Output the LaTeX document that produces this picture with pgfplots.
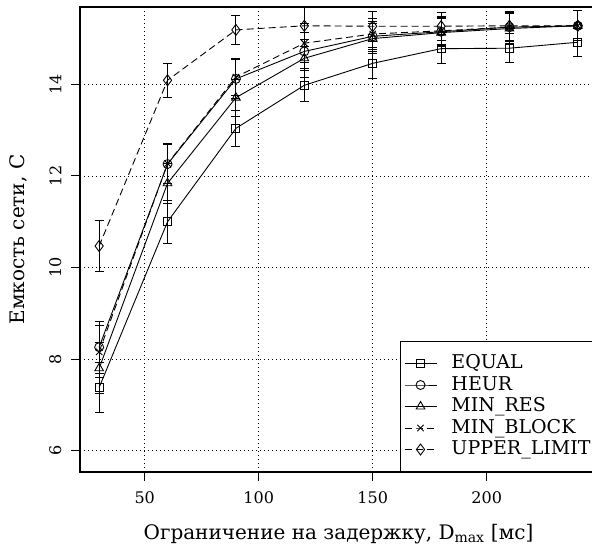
\documentclass[border=0pt]{standalone}
\usepackage{fontspec}
\setmainfont{DejaVu Serif}
\usepackage{pgfplots}
\usepackage{pgfplotstable}
\pgfplotsset{compat=1.18}

% Network capacity vs. delay bound: mean and confidence half-width
\pgfplotstableread{
x    y      e
30   7.38   0.55
60   11.00  0.47
90   13.04  0.40
120  13.98  0.36
150  14.46  0.34
180  14.78  0.32
210  14.79  0.32
240  14.92  0.30
}\equalT
\pgfplotstableread{
x    y      e
30   8.26   0.57
60   12.26  0.43
90   14.12  0.43
120  14.72  0.42
150  15.05  0.33
180  15.15  0.31
210  15.25  0.32
240  15.28  0.33
}\heurT
\pgfplotstableread{
x    y      e
30   7.80   0.56
60   11.84  0.44
90   13.71  0.40
120  14.57  0.42
150  15.00  0.33
180  15.13  0.31
210  15.22  0.32
240  15.28  0.33
}\minresT
\pgfplotstableread{
x    y      e
30   8.16   0.57
60   12.27  0.43
90   14.16  0.40
120  14.90  0.42
150  15.10  0.33
180  15.17  0.31
210  15.25  0.32
240  15.28  0.33
}\minblockT
\pgfplotstableread{
x    y      e
30   10.47  0.56
60   14.09  0.37
90   15.19  0.32
120  15.28  0.45
150  15.27  0.33
180  15.27  0.31
210  15.28  0.32
240  15.28  0.33
}\upperT

\begin{document}
\begin{tikzpicture}
\begin{axis}[
  scale only axis,
  width=517pt, height=465pt,
  xmin=21.6, xmax=248.4, ymin=5.535, ymax=15.69,
  xtick={50,100,150,200}, ytick={6,8,10,12,14},
  tick align=outside, xtick pos=bottom, ytick pos=left,
  major tick length=9pt,
  tick style={black, line width=1pt},
  axis line style={black, line width=1.2pt},
  grid=major,
  major grid style={black, line width=0.9pt, dash pattern=on 1.2pt off 2.8pt},
  /pgf/number format/assume math mode=true,
  ticklabel style={font=\fontsize{16}{19}\selectfont},
  xticklabel style={yshift=-7pt},
  yticklabel style={xshift=-6pt, rotate=90, anchor=south},
  every axis x label/.style={at={(axis description cs:0.5,0)}, yshift=-62pt, anchor=center},
  every axis y label/.style={at={(axis description cs:0,0.5)}, xshift=-62pt, rotate=90, anchor=center},
  label style={font=\fontsize{20}{24}\selectfont},
  xlabel={Ограничение на задержку, D\textsubscript{max} [мс]},
  ylabel={Емкость сети, C},
  legend style={at={(1,0)}, anchor=south east, draw=black, line width=1pt, fill=white,
    font=\fontsize{19}{21}\selectfont, inner xsep=3.5pt, inner ysep=11.25pt,
    row sep=0pt, column sep=12pt,
    nodes={text height=13.25pt, text depth=3.25pt, inner sep=2.5pt}},
  legend cell align=left,
  legend image code/.code={\draw[mark repeat=2, mark phase=2] plot coordinates {(0pt,0pt) (16pt,0pt) (32pt,0pt)};},
  every axis plot/.append style={black, line width=0.9pt},
  error bars/y dir=both, error bars/y explicit,
  error bars/error bar style={solid, line width=0.9pt},
  error bars/error mark options={rotate=90, mark size=4.5pt, solid, line width=0.9pt},
]
\addplot[mark=square, mark size=4pt, mark options={solid}] table[x=x, y=y, y error=e] {\equalT};
\addlegendentry{EQUAL}
\addplot[mark=o, mark size=4.5pt, mark options={solid}] table[x=x, y=y, y error=e] {\heurT};
\addlegendentry{HEUR}
\addplot[mark=triangle, mark size=5pt, mark options={solid}] table[x=x, y=y, y error=e] {\minresT};
\addlegendentry{MIN\_RES}
\addplot[dash pattern=on 7pt off 4pt, mark=x, mark size=4.5pt, mark options={solid}] table[x=x, y=y, y error=e] {\minblockT};
\addlegendentry{MIN\_BLOCK}
\addplot[dash pattern=on 7pt off 4pt, mark=diamond, mark size=5.5pt, mark options={solid}] table[x=x, y=y, y error=e] {\upperT};
\addlegendentry{UPPER\_LIMIT}
\end{axis}
\pgfresetboundingbox
\useasboundingbox ([xshift=-80pt, yshift=-75pt]current axis.south west) rectangle ([xshift=512pt, yshift=472pt]current axis.south west);
\end{tikzpicture}
\end{document}
